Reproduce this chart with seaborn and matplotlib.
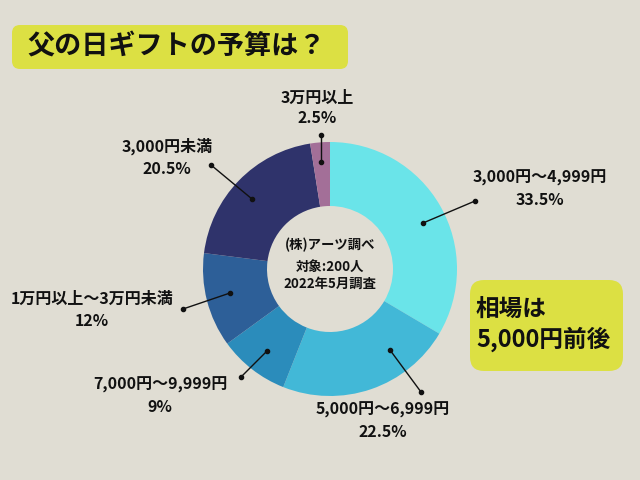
import matplotlib
matplotlib.use("Agg")
import matplotlib.pyplot as plt
import seaborn as sns
from matplotlib.patches import FancyBboxPatch

sns.set_theme(style="white")
plt.rcParams['font.family'] = ['Noto Sans CJK JP', 'DejaVu Sans']

# Data
categories = ["3,000円～4,999円", "5,000円～6,999円", "7,000円～9,999円",
              "1万円以上～3万円未満", "3,000円未満", "3万円以上"]
values = [33.5, 22.5, 9, 12, 20.5, 2.5]
pct_labels = ["33.5%", "22.5%", "9%", "12%", "20.5%", "2.5%"]
colors = sns.color_palette(["#6ae4e9", "#42b8d7", "#2b8cbb", "#2d5f98", "#2f336b", "#a36f98"])

title = "父の日ギフトの予算は？"
note_lines = ["相場は", "5,000円前後"]
center_lines = ["(株)アーツ調べ", "対象:200人", "2022年5月調査"]

BG = "#e0ddd3"
BOX = "#dce043"

W, H = 640, 480
fig = plt.figure(figsize=(6.4, 4.8), dpi=100, facecolor=BG)
ax = fig.add_axes([0, 0, 1, 1])
ax.set_facecolor(BG)

def Y(y):
    return H - y

cx, cy, R, r_in = 330, 269, 127, 63
ax.pie(values, colors=colors, startangle=90, counterclock=False,
       center=(cx, Y(cy)), radius=R, frame=True,
       wedgeprops=dict(width=R - r_in, linewidth=0))
ax.set_xlim(0, W)
ax.set_ylim(0, H)
ax.set_aspect("equal")
ax.axis("off")

# Center text
for txt, yy in zip(center_lines, [245, 267, 284]):
    ax.text(cx, Y(yy), txt, ha="center", va="center", fontsize=9.6,
            fontweight="bold", color="#111")

# Labels and leader lines: (label center x, name y, pct y, line start, line end)
label_pos = [
    (540, 178, 200, (423, 223), (475, 201)),
    (383, 410, 432, (390, 350), (421, 392)),
    (160, 385, 407, (267, 351), (241, 377)),
    (92, 299, 321, (230, 293), (183, 309)),
    (167, 146, 169, (252, 199), (211, 165)),
    (317, 98, 118, (321, 162), (321, 135)),
]
for cat, pct, (lx, ny, py, p0, p1) in zip(categories, pct_labels, label_pos):
    ax.text(lx, Y(ny), cat, ha="center", va="center", fontsize=11.5, fontweight="bold", color="#111")
    ax.text(lx, Y(py), pct, ha="center", va="center", fontsize=11.5, fontweight="bold", color="#111")
    ax.plot([p0[0], p1[0]], [Y(p0[1]), Y(p1[1])], color="#111", lw=1)
    ax.plot([p0[0], p1[0]], [Y(p0[1]), Y(p1[1])], "o", color="#111", ms=3)

# Title box
ax.add_patch(FancyBboxPatch((12 + 8, Y(69) + 8), 336 - 16, 44 - 16,
                            boxstyle="round,pad=8", fc=BOX, ec="none"))
ax.text(27, Y(47), title, ha="left", va="center", fontsize=19.5, fontweight="bold", color="#111")

# Note box
ax.add_patch(FancyBboxPatch((470 + 14, Y(371) + 14), 153 - 28, 91 - 28,
                            boxstyle="round,pad=14", fc=BOX, ec="none"))
ax.text(476, Y(310), note_lines[0], ha="left", va="center", fontsize=17, fontweight="bold", color="#111")
ax.text(476, Y(339), note_lines[1], ha="left", va="center", fontsize=17, fontweight="bold", color="#111")

fig.savefig("out.png", dpi=100, facecolor=BG)
